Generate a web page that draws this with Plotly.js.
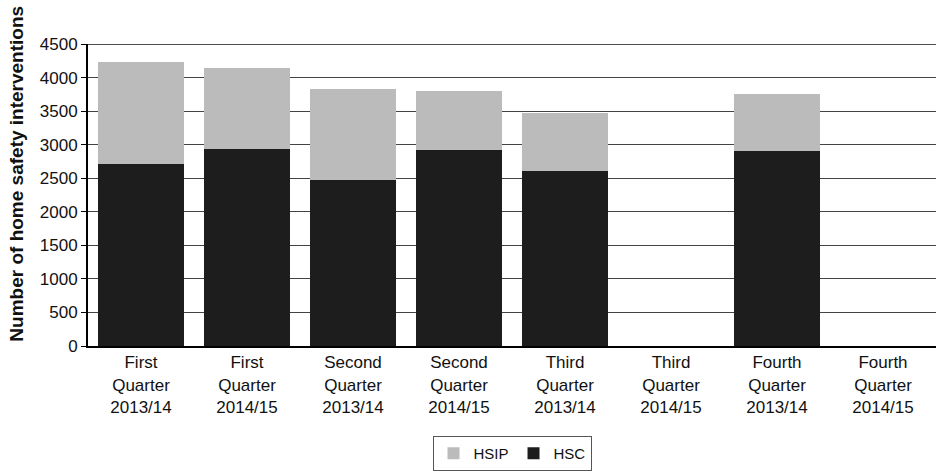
<!DOCTYPE html>
<html>
<head>
<meta charset="utf-8">
<script src="https://cdn.plot.ly/plotly-3.0.1.min.js"></script>
<style>html,body{margin:0;padding:0;background:#fff;}#chart{width:936px;height:473px;}</style>
</head>
<body>
<div id="chart"></div>
<script>
const categories = [
  "First<br>Quarter<br>2013/14",
  "First<br>Quarter<br>2014/15",
  "Second<br>Quarter<br>2013/14",
  "Second<br>Quarter<br>2014/15",
  "Third<br>Quarter<br>2013/14",
  "Third<br>Quarter<br>2014/15",
  "Fourth<br>Quarter<br>2013/14",
  "Fourth<br>Quarter<br>2014/15"
];
const hscValues = [2710, 2930, 2470, 2915, 2615, null, 2900, null];
const hsipValues = [1520, 1210, 1360, 885, 855, null, 855, null];
const yTickValues = [0, 500, 1000, 1500, 2000, 2500, 3000, 3500, 4000, 4500];

const font = "Liberation Sans, Arial, sans-serif";

const traces = [
  {type: "bar", name: "HSC", x: categories, y: hscValues,
   marker: {color: "#1d1d1d", line: {width: 0}}, hoverinfo: "skip"},
  {type: "bar", name: "HSIP", x: categories, y: hsipValues,
   marker: {color: "#bbbbbb", line: {width: 0}}, hoverinfo: "skip"}
];

const layout = {
  width: 936, height: 473,
  margin: {l: 88, r: 0, t: 44, b: 127},
  paper_bgcolor: "#fff", plot_bgcolor: "#fff",
  barmode: "stack", bargap: 0.19,
  font: {family: font, size: 17, color: "#111"},
  showlegend: true,
  legend: {
    orientation: "h", traceorder: "reversed",
    x: 0.5, xanchor: "center", y: -0.298, yanchor: "top",
    bordercolor: "#555", borderwidth: 1,
    font: {family: font, size: 15, color: "#111"}
  },
  xaxis: {
    range: [-0.5, 7.5], showline: true, linecolor: "#000", linewidth: 2,
    ticks: "", showgrid: false, tickfont: {size: 17}, fixedrange: true
  },
  yaxis: {
    range: [0, 4500], tickvals: yTickValues, showline: true, linecolor: "#000", linewidth: 2,
    ticks: "outside", ticklen: 5, tickcolor: "#000", tickwidth: 1,
    showgrid: true, gridcolor: "#444", gridwidth: 1, zeroline: false,
    tickfont: {size: 17}, fixedrange: true
  },
  annotations: [{
    text: "<b>Number of home safety interventions</b>",
    xref: "paper", yref: "paper", x: -0.084, y: 0.57,
    xanchor: "center", yanchor: "middle", textangle: -90, showarrow: false,
    font: {family: font, size: 19, color: "#111"}
  }],
  shapes: [{type: "line", xref: "paper", yref: "y", x0: 0, x1: 1, y0: 4500, y1: 4500,
            line: {color: "#111", width: 1.5}}]
};

Plotly.newPlot("chart", traces, layout, {staticPlot: true, displayModeBar: false});
</script>
</body>
</html>
